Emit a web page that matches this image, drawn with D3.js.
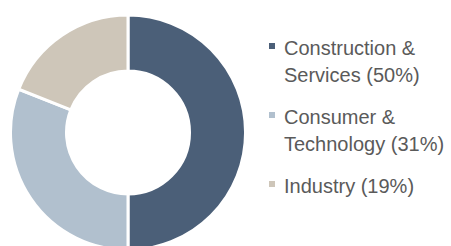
<!DOCTYPE html>
<html>
<head>
<meta charset="utf-8">
<script src="https://cdn.jsdelivr.net/npm/d3@7"></script>
<style>
  body { margin: 0; background: #fff; }
  svg { display: block; }
  .legend text { font-family: "Liberation Sans", Arial, sans-serif; font-size: 20px; fill: #5a5a5a; }
</style>
</head>
<body>
<svg id="chart" width="451" height="246"></svg>
<script>
// chart data
const categories = ["Construction & Services", "Consumer & Technology", "Industry"];
const shares = [50, 31, 19];
const colors = ["#4b5f78", "#b1c0ce", "#cec6b9"];

const svg = d3.select("#chart");
const cx = 128, cy = 132.5;
const outerR = 117.5, innerR = 61.5;

const color = d3.scaleOrdinal().domain(categories).range(colors);

const pie = d3.pie().sort(null).value(function(d, i) { return shares[i]; });
const arc = d3.arc().innerRadius(innerR).outerRadius(outerR);

svg.append("g")
  .attr("transform", "translate(" + cx + "," + cy + ")")
  .selectAll("path")
  .data(pie(categories))
  .enter()
  .append("path")
  .attr("d", arc)
  .attr("fill", function(d) { return color(d.data); })
  .attr("stroke", "#fff")
  .attr("stroke-width", 3);

// legend
const legend = svg.append("g").attr("class", "legend");
const lx = 269, ty = 55, step = 69, lineH = 27, maxW = 170;

categories.forEach(function(name, i) {
  const y0 = ty + i * step;
  legend.append("rect")
    .attr("x", lx).attr("y", y0 - 12)
    .attr("width", 6).attr("height", 6)
    .attr("fill", color(name));

  const text = legend.append("text").attr("x", lx + 15).attr("y", y0);
  const words = (name + " (" + shares[i] + "%)").split(" ");
  let line = [], n = 0;
  let tspan = text.append("tspan").attr("x", lx + 15).attr("y", y0);
  words.forEach(function(w) {
    line.push(w);
    tspan.text(line.join(" "));
    if (tspan.node().getComputedTextLength() > maxW && line.length > 1) {
      line.pop();
      tspan.text(line.join(" "));
      line = [w];
      n++;
      tspan = text.append("tspan").attr("x", lx + 15).attr("y", y0 + n * lineH).text(w);
    }
  });
});
</script>
</body>
</html>
